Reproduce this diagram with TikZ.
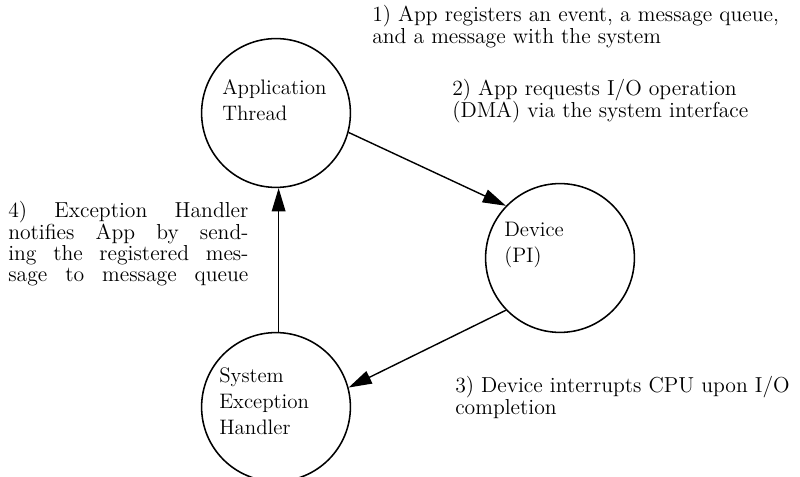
\documentclass[tikz,border=0pt]{standalone}
\usetikzlibrary{arrows.meta}
\newcommand{\jline}[1]{\makebox[5.8cm][s]{#1}}
\tikzset{
  proc/.style={circle, draw, line width=1.1pt, minimum size=3.72cm, inner sep=0pt},
  txt/.style={anchor=north west, inner sep=0pt, align=left,
    font=\fontsize{14.9pt}{18.5pt}\selectfont},
  note/.style={anchor=north west, inner sep=0pt, align=left, scale=1.035,
    font=\fontsize{14.9pt}{15.3pt}\selectfont},
  flow/.style={line width=1pt, -{Triangle[length=0.58cm,width=0.34cm]}}
}
\begin{document}
\begin{tikzpicture}
    \useasboundingbox (0,0) rectangle (20,11.925);
    % the three parties
    \node[proc] (app) at (6.9,9.1) {};
    \node[proc] (dev) at (14.0,5.475) {};
    \node[proc] (hnd) at (6.9,1.75) {};
    \node[txt] (appt) at (5.55,9.935) {Application\\Thread};
    \node[txt] (devt) at (12.6,6.375) {Device\\(PI)};
    \node[txt] (hndt) at (5.475,2.75) {System\\Exception\\Handler};
    % steps
    \draw[flow] (app.-15) -- (dev.136);
    \draw[flow] (dev.224) -- (hnd.15);
    \draw[flow] (hnd.88) -- (app.-88);
    \node[note] (n1) at (9.3,11.8) {1) App registers an event, a message queue,\\and a message with the system};
    \node[note] (n2) at (11.3,9.95) {2) App requests I/O operation\\(DMA) via the system interface};
    \node[note] (n3) at (11.375,2.53) {3) Device interrupts CPU upon I/O\\completion};
    \node[note, font=\fontsize{14.9pt}{14.3pt}\selectfont] (n4) at (0.2,6.91) {\jline{4) Exception Handler}\\\jline{notifies App by send-}\\\jline{ing the registered mes-}\\\jline{sage to message queue}};
  \end{tikzpicture}
\end{document}
